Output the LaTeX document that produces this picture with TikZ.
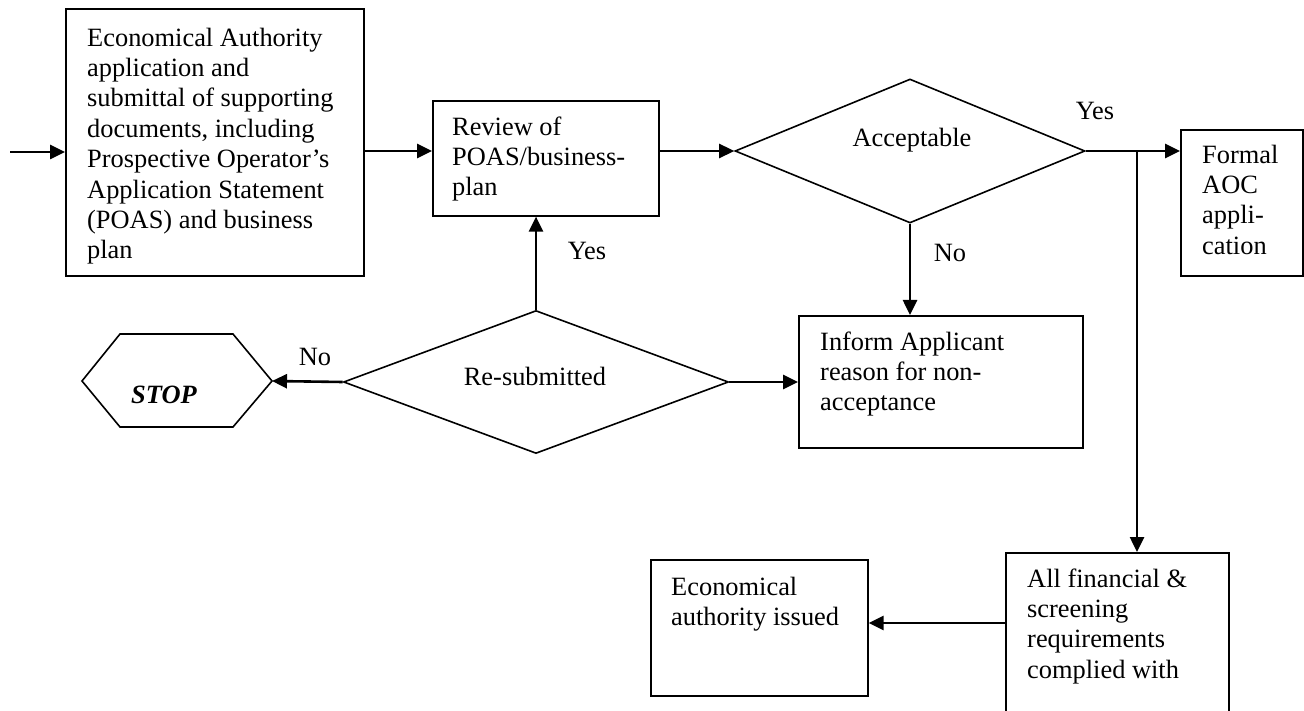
\documentclass[tikz,border=0pt]{standalone}
\usepackage{fontspec}
\setmainfont{Liberation Serif}
\usetikzlibrary{shapes.geometric,arrows.meta}
\begin{document}
\begin{tikzpicture}[x=1pt,y=-1pt,
 boxnode/.style={draw, line width=1.6pt, inner sep=0pt, anchor=north west},
 txt/.style={inner sep=0pt, anchor=north west, align=left, font=\fontsize{26.4}{30.4}\selectfont},
 lbl/.style={inner sep=0pt, anchor=base, font=\fontsize{26.4}{30.4}\selectfont},
 dia/.style={draw, diamond, line width=1.6pt, inner sep=0pt},
 arr/.style={line width=2.6pt, -{Triangle[length=15pt,width=14pt]}},
]
\useasboundingbox (0,0) rectangle (1304,711);
\clip (0,0) rectangle (1304,711);

% boxes
\node[boxnode, minimum width=298pt, minimum height=267pt] (b1) at (65,8) {};
\node[boxnode, minimum width=226pt, minimum height=115pt] (rev) at (432,100) {};
\node[boxnode, minimum width=122pt, minimum height=146pt] (formal) at (1180,129) {};
\node[boxnode, minimum width=284pt, minimum height=132pt] (inf) at (798,315) {};
\node[boxnode, minimum width=223pt, minimum height=180pt] (allf) at (1005,552) {};
\node[boxnode, minimum width=217pt, minimum height=136pt] (eco) at (650,559) {};

% diamonds
\node[dia, minimum width=350pt, minimum height=144pt] (acc) at (910,151) {};
\node[dia, minimum width=385pt, minimum height=143pt] (res) at (536,382) {};

% stop hexagon
\draw[line width=1.6pt] (82,381) -- (120,334) -- (233,334) -- (272,381) -- (233,427) -- (120,427) -- cycle;
\coordinate (stopE) at (272,381);
\node[lbl, font=\fontsize{26.4}{30.4}\selectfont\bfseries\itshape] (stoptxt) at (164,403) {STOP};

% texts
\node[txt] (b1t) at (87,24.7) {\strut Economical Authority\\application and\\submittal of supporting\\documents, including\\Prospective Operator’s\\Application Statement\\(POAS) and business\\plan};
\node[txt] (revt) at (452,113.7) {\strut Review of\\POAS/business-\\plan};
\node[txt] (formalt) at (1202,141.7) {\strut Formal\\AOC\\appli-\\cation};
\node[txt] (inft) at (820,328.7) {\strut Inform Applicant\\reason for non-\\acceptance};
\node[txt] (allft) at (1027,565.7) {\strut All financial \&\\screening\\requirements\\complied with};
\node[txt] (ecot) at (671,573.7) {\strut Economical\\authority issued};

\node[lbl] (acctxt) at (912,147) {Acceptable};
\node[lbl] (restxt) at (535,385) {Re-submitted};
\node[lbl] (yes1) at (1095,120) {Yes};
\node[lbl] (yes2) at (587,260) {Yes};
\node[lbl] (no1) at (315,366) {No};
\node[lbl] (no2) at (950,262) {No};

% connectors
\coordinate (inL) at (10,152);
\draw[arr] (inL) -- (inL -| b1.west);
\draw[arr] (b1.east |- acc.west) -- (rev.west |- acc.west);
\draw[arr] (rev.east |- acc.west) -- (acc.west);
\draw[arr] (acc.east) -- (formal.west |- acc.east);
\coordinate (brx) at (1137,152);
\draw[arr] (brx) -- (brx |- allf.north);
\draw[arr] (acc.south) -- (acc.south |- inf.north);
\draw[arr] (res.north) -- (res.north |- rev.south);
\draw[arr] (res.west) -- (stopE);
\draw[arr] (res.east) -- (inf.west |- res.east);
\coordinate (ecoy) at (0,623);
\draw[arr] (allf.west |- ecoy) -- (eco.east |- ecoy);
\end{tikzpicture}
\end{document}
